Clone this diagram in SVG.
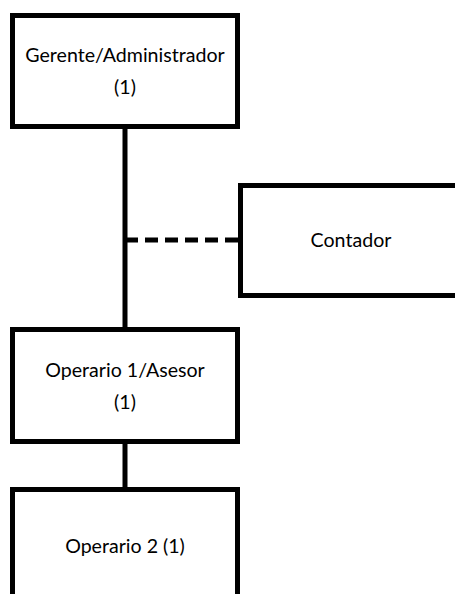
<svg xmlns="http://www.w3.org/2000/svg" width="455" height="594" viewBox="0 0 455 594">
  <style>
    .box { fill: #ffffff; stroke: #000000; stroke-width: 5; }
    .link { stroke: #000000; stroke-width: 5; fill: none; }
    .dash { stroke-dasharray: 13 7; }
    .label { font-family: Lato, "Open Sans", sans-serif; font-size: 19.6px; fill: #000000; text-anchor: middle; }
  </style>
  <rect width="455" height="594" fill="#ffffff"/>
  <g id="connectors">
    <line class="link" x1="125" y1="128" x2="125" y2="329"/>
    <line class="link dash" x1="125" y1="240" x2="238" y2="240"/>
    <line class="link" x1="125" y1="443" x2="125" y2="490"/>
  </g>
  <g id="gerente">
    <rect class="box" x="12.5" y="15.5" width="225" height="111"/>
    <text class="label" x="125" y="61.5">Gerente/Administrador</text>
    <text class="label" x="125" y="94">(1)</text>
  </g>
  <g id="contador">
    <rect class="box" x="240.5" y="185.5" width="300" height="110"/>
    <text class="label" x="351" y="247">Contador</text>
  </g>
  <g id="operario1">
    <rect class="box" x="12.5" y="329.5" width="225" height="112"/>
    <text class="label" x="125" y="377">Operario 1/Asesor</text>
    <text class="label" x="125" y="409">(1)</text>
  </g>
  <g id="operario2">
    <rect class="box" x="12.5" y="489.5" width="225" height="200"/>
    <text class="label" x="125" y="553">Operario 2 (1)</text>
  </g>
</svg>
